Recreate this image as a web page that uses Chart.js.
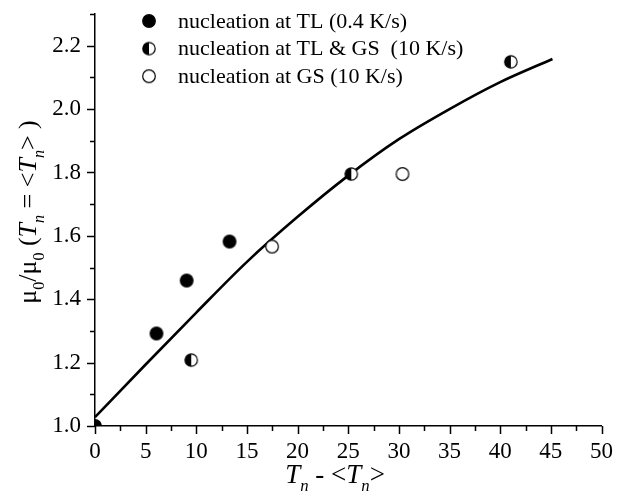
<!DOCTYPE html>
<html>
<head>
<meta charset="utf-8">
<script src="https://cdn.jsdelivr.net/npm/chart.js@4.4.1/dist/chart.umd.min.js"></script>
<style>
  html, body { margin: 0; background: #fff; }
</style>
</head>
<body>
<canvas id="chart" width="617" height="500"></canvas>
<script>
// nucleation at TL (0.4 K/s)
const tlX = [0, 6.07, 9.05, 13.28];
const tlY = [1.0, 1.292, 1.459, 1.582];
// nucleation at TL & GS (10 K/s)
const bothX = [9.5, 25.3, 41.05];
const bothY = [1.208, 1.795, 2.149];
// nucleation at GS (10 K/s)
const gsX = [17.48, 30.35];
const gsY = [1.566, 1.795];
// fitted curve
const fitX = [0, 5, 10, 15, 20, 25, 30, 35, 40, 45.16];
const fitY = [1.028, 1.194, 1.358, 1.518, 1.66, 1.79, 1.905, 2.0, 2.085, 2.158];

const legendLabels = ["nucleation at TL (0.4 K/s)", "nucleation at TL & GS  (10 K/s)", "nucleation at GS (10 K/s)"];

const SERIF = "'Liberation Serif', 'Times New Roman', serif";

function pts(xs, ys) {
  return xs.map((x, i) => ({ x: x, y: ys[i] }));
}

// small canvases used as point styles
function makeMarker(kind, r) {
  const s = Math.ceil(2 * r + 3);
  const c = document.createElement('canvas');
  c.width = s; c.height = s;
  const g = c.getContext('2d');
  const m = s / 2;
  g.beginPath();
  g.arc(m, m, r, 0, Math.PI * 2);
  g.fillStyle = kind === 'filled' ? '#000' : '#fff';
  g.fill();
  if (kind === 'half') {
    g.beginPath();
    g.moveTo(m, m);
    g.arc(m, m, r, Math.PI / 2, Math.PI * 1.5);
    g.closePath();
    g.fillStyle = '#000';
    g.fill();
  }
  g.beginPath();
  g.arc(m, m, r, 0, Math.PI * 2);
  g.lineWidth = 1.2;
  g.strokeStyle = '#000';
  g.stroke();
  return c;
}

const mFilled = makeMarker('filled', 6.3);
const mHalf = makeMarker('half', 6.2);
const mOpen = makeMarker('open', 6.3);

// draws text with italic / subscript pieces
function richWidth(ctx, parts, size) {
  let w = 0;
  parts.forEach(p => {
    const fs = p.sub ? size * 0.62 : size;
    ctx.font = (p.it ? 'italic ' : '') + fs + 'px ' + SERIF;
    w += ctx.measureText(p.t).width;
  });
  return w;
}
function drawRich(ctx, parts, x, y, size) {
  let w = richWidth(ctx, parts, size);
  let cx = x - w / 2;
  ctx.textAlign = 'left';
  ctx.textBaseline = 'alphabetic';
  parts.forEach(p => {
    const fs = p.sub ? size * 0.62 : size;
    ctx.font = (p.it ? 'italic ' : '') + fs + 'px ' + SERIF;
    ctx.fillText(p.t, cx, p.sub ? y + size * 0.3 : y);
    cx += ctx.measureText(p.t).width;
  });
}

const xTitle = [
  { t: 'T', it: true }, { t: 'n', it: true, sub: true },
  { t: ' - <' }, { t: 'T', it: true }, { t: 'n', it: true, sub: true }, { t: '>' }
];
const yTitle = [
  { t: 'μ' }, { t: '0', sub: true }, { t: '/μ' }, { t: '0', sub: true },
  { t: ' (' }, { t: 'T', it: true }, { t: 'n', it: true, sub: true },
  { t: ' = <' }, { t: 'T', it: true }, { t: 'n', it: true, sub: true }, { t: '> )' }
];

const decorPlugin = {
  id: 'decor',
  afterDraw(chart) {
    const ctx = chart.ctx;
    const xs = chart.scales.x, ys = chart.scales.y;
    const area = chart.chartArea;
    ctx.save();
    // tick marks, long for labelled ones
    ctx.strokeStyle = '#000';
    ctx.lineWidth = 1.5;
    ctx.beginPath();
    xs.ticks.forEach(t => {
      const px = Math.round(xs.getPixelForValue(t.value)) + 0.5;
      const len = t.label !== '' ? 8 : 5;
      ctx.moveTo(px, area.bottom);
      ctx.lineTo(px, area.bottom + len);
    });
    ys.ticks.forEach(t => {
      const py = Math.round(ys.getPixelForValue(t.value)) + 0.5;
      const len = t.label !== '' ? 8 : 5;
      ctx.moveTo(area.left, py);
      ctx.lineTo(area.left - len, py);
    });
    ctx.stroke();

    // legend
    const imgs = [mFilled, mHalf, mOpen];
    ctx.fillStyle = '#000';
    legendLabels.forEach((lab, i) => {
      const cy = 21 + i * 27.6;
      const im = imgs[i];
      ctx.drawImage(im, 149 - im.width / 2, cy - im.height / 2);
      ctx.font = '22px ' + SERIF;
      ctx.textAlign = 'left';
      ctx.textBaseline = 'middle';
      ctx.fillText(lab, 178, cy + 1);
    });

    // axis titles
    ctx.fillStyle = '#000';
    drawRich(ctx, xTitle, 335, 483, 27);
    ctx.translate(36, 212);
    ctx.rotate(-Math.PI / 2);
    drawRich(ctx, yTitle, 0, 0, 26);
    ctx.restore();
  }
};

new Chart(document.getElementById('chart'), {
  type: 'scatter',
  data: {
    datasets: [
      { label: legendLabels[0], data: pts(tlX, tlY), pointStyle: mFilled, pointRadius: 6 },
      { label: legendLabels[1], data: pts(bothX, bothY), pointStyle: mHalf, pointRadius: 6 },
      { label: legendLabels[2], data: pts(gsX, gsY), pointStyle: mOpen, pointRadius: 6 },
      {
        label: 'fit', type: 'line', data: pts(fitX, fitY),
        borderColor: '#000', borderWidth: 2.6, pointRadius: 0,
        cubicInterpolationMode: 'monotone', fill: false, clip: false
      }
    ]
  },
  options: {
    responsive: false,
    animation: false,
    layout: { padding: { top: 14, right: 12, left: 0, bottom: 0 } },
    plugins: { legend: { display: false }, tooltip: { enabled: false } },
    scales: {
      x: {
        type: 'linear', min: 0, max: 50,
        ticks: {
          stepSize: 2.5, autoSkip: false, maxRotation: 0, padding: 4,
          color: '#000', font: { family: SERIF, size: 23 },
          callback: v => (Math.abs(v % 5) < 1e-6 ? String(Math.round(v)) : '')
        },
        grid: { color: 'rgba(0,0,0,0)', drawOnChartArea: false, tickLength: 8 },
        border: { color: '#000', width: 1.5 },
        afterFit: s => { s.height = 74; }
      },
      y: {
        min: 1.0, max: 2.3,
        ticks: {
          stepSize: 0.1, autoSkip: false, padding: 0,
          color: '#000', font: { family: SERIF, size: 23 },
          callback: v => {
            const k = Math.round(v * 10);
            return (k % 2 === 0 && k < 23) ? (k / 10).toFixed(1) : '';
          }
        },
        grid: { color: 'rgba(0,0,0,0)', drawOnChartArea: false, tickLength: 14 },
        border: { color: '#000', width: 1.5 },
        afterFit: s => { s.width = 95; }
      }
    }
  },
  plugins: [decorPlugin]
});
</script>
</body>
</html>
